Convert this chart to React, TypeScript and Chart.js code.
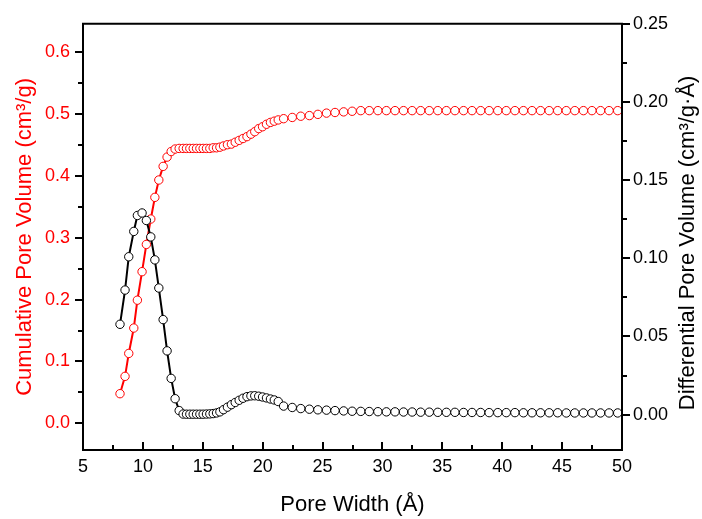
import React, { useEffect, useRef } from "react";
import { Chart, registerables } from "chart.js";

Chart.register(...registerables);

const FONT = "'Liberation Sans', Arial, Helvetica, sans-serif";

// Pore width (Å)
const poreWidth = [
  8.09, 8.51, 8.82, 9.24, 9.54, 9.93, 10.29, 10.66, 11.0, 11.33, 11.69, 12.02, 12.36, 12.69, 13.03, 13.36,
  13.64, 13.92, 14.2, 14.48, 14.76, 15.03, 15.31, 15.59, 15.87, 16.15, 16.43,
  16.73, 17.06, 17.39, 17.71, 18.04, 18.36, 18.69, 19.02, 19.34, 19.67, 19.99, 20.32, 20.65, 20.97, 21.3,
  21.75, 22.47, 23.18, 23.9, 24.61, 25.33, 26.04, 26.76, 27.47, 28.19, 28.9, 29.62, 30.33, 31.05, 31.76,
  32.48, 33.19, 33.91, 34.62, 35.34, 36.05, 36.77, 37.48, 38.2, 38.91, 39.63, 40.34, 41.06, 41.77, 42.49,
  43.2, 43.92, 44.63, 45.35, 46.06, 46.78, 47.49, 48.21, 48.92, 49.64,
];

// Cumulative pore volume (cm³/g), left axis
const cumulativeVolume = [
  0.048, 0.076, 0.113, 0.154, 0.199, 0.245, 0.289, 0.33, 0.365, 0.393, 0.415, 0.43, 0.439, 0.443, 0.444, 0.444,
  0.444, 0.444, 0.444, 0.444, 0.444, 0.444, 0.444, 0.444, 0.445, 0.445, 0.446,
  0.448, 0.45, 0.451, 0.454, 0.457, 0.46, 0.463, 0.467, 0.471, 0.476, 0.479, 0.483, 0.486, 0.488, 0.49,
  0.492, 0.494, 0.496, 0.497, 0.499, 0.501, 0.502, 0.503, 0.504, 0.505, 0.505, 0.505, 0.505, 0.505, 0.505,
  0.505, 0.505, 0.505, 0.505, 0.505, 0.505, 0.505, 0.505, 0.505, 0.505, 0.505, 0.505, 0.505, 0.505, 0.505,
  0.505, 0.505, 0.505, 0.505, 0.505, 0.505, 0.505, 0.505, 0.505, 0.505,
];

// Differential pore volume (cm³/g·Å), right axis
const differentialVolume = [
  0.0578, 0.0797, 0.101, 0.1172, 0.1274, 0.129, 0.1242, 0.1137, 0.099, 0.081, 0.0608, 0.0408, 0.0232, 0.0102, 0.0026, 0.0004,
  0.0003, 0.0003, 0.0003, 0.0003, 0.0003, 0.0003, 0.0004, 0.0005, 0.0007, 0.0011, 0.0018,
  0.0032, 0.0048, 0.0064, 0.0078, 0.0092, 0.0105, 0.0115, 0.012, 0.0121, 0.0118, 0.0113, 0.0107, 0.01, 0.0094, 0.0084,
  0.0055, 0.0046, 0.0039, 0.0035, 0.0031, 0.0029, 0.0026, 0.0024, 0.0022, 0.0021, 0.002, 0.0019, 0.0018, 0.0018, 0.0017,
  0.0017, 0.0016, 0.0016, 0.0015, 0.0015, 0.0015, 0.0014, 0.0014, 0.0014, 0.0013, 0.0013, 0.0013, 0.0013, 0.0012, 0.0012,
  0.0012, 0.0012, 0.0012, 0.0011, 0.0011, 0.0011, 0.0011, 0.0011, 0.0011, 0.0011,
];

const xTicks = [5, 10, 15, 20, 25, 30, 35, 40, 45, 50];
const leftTicks = [0, 0.1, 0.2, 0.3, 0.4, 0.5, 0.6];
const rightTicks = [0, 0.05, 0.1, 0.15, 0.2, 0.25];

const xTitle = "Pore Width (Å)";
const leftTitle = "Cumulative Pore Volume (cm³/g)";
const rightTitle = "Differential Pore Volume (cm³/g·Å)";

const RED = "#ff0000";
const TITLE_SIZE = 22;
const TICK_SIZE = 18;

const midpoints = (arr: number[]) => arr.slice(0, -1).map((v, i) => (v + arr[i + 1]) / 2);

const framePlugin = {
  id: "originFrame",
  afterDraw(chart: any) {
    const { ctx, chartArea, scales } = chart;
    const { left, right, top, bottom } = chartArea;
    ctx.save();
    ctx.strokeStyle = "#000";
    ctx.lineWidth = 2;
    ctx.lineCap = "square";
    ctx.beginPath();
    ctx.rect(left, top, right - left, bottom - top);
    ctx.stroke();
    ctx.lineCap = "butt";
    const MAJ = 7;
    const MIN = 4;
    ctx.beginPath();
    // bottom axis ticks (pointing inward)
    xTicks.forEach((v) => {
      const p = Math.round(scales.x.getPixelForValue(v));
      ctx.moveTo(p, bottom);
      ctx.lineTo(p, bottom - MAJ - 1);
    });
    midpoints(xTicks).forEach((v) => {
      const p = Math.round(scales.x.getPixelForValue(v));
      ctx.moveTo(p, bottom);
      ctx.lineTo(p, bottom - MIN - 1);
    });
    // left axis ticks (outward)
    leftTicks.forEach((v) => {
      const p = Math.round(scales.y.getPixelForValue(v));
      ctx.moveTo(left, p);
      ctx.lineTo(left - MAJ - 1, p);
    });
    midpoints(leftTicks).forEach((v) => {
      const p = Math.round(scales.y.getPixelForValue(v));
      ctx.moveTo(left, p);
      ctx.lineTo(left - MIN - 1, p);
    });
    // right axis ticks (outward)
    rightTicks.forEach((v) => {
      const p = Math.round(scales.y1.getPixelForValue(v));
      ctx.moveTo(right, p);
      ctx.lineTo(right + MAJ + 1, p);
    });
    midpoints(rightTicks).forEach((v) => {
      const p = Math.round(scales.y1.getPixelForValue(v));
      ctx.moveTo(right, p);
      ctx.lineTo(right + MIN + 1, p);
    });
    ctx.stroke();

    // right axis title, reading bottom-to-top
    ctx.fillStyle = "#000";
    ctx.font = `${TITLE_SIZE}px ${FONT}`;
    ctx.textAlign = "center";
    ctx.textBaseline = "middle";
    ctx.translate(688, (top + bottom) / 2 + 6);
    ctx.rotate(-Math.PI / 2);
    ctx.fillText(rightTitle, 0, 0);
    ctx.restore();
  },
};

export default function App() {
  const canvasRef = useRef<HTMLCanvasElement | null>(null);

  useEffect(() => {
    if (!canvasRef.current) return;
    Chart.defaults.font.family = FONT;
    const chart = new Chart(canvasRef.current, {
      type: "line",
      data: {
        datasets: [
          {
            label: "Differential",
            data: poreWidth.map((x, i) => ({ x, y: differentialVolume[i] })),
            yAxisID: "y1",
            borderColor: "#000",
            borderWidth: 2,
            pointRadius: 4.2,
            pointBorderWidth: 1,
            pointBorderColor: "#000",
            pointBackgroundColor: "#fff",
            tension: 0,
          },
          {
            label: "Cumulative",
            data: poreWidth.map((x, i) => ({ x, y: cumulativeVolume[i] })),
            yAxisID: "y",
            borderColor: RED,
            borderWidth: 2,
            pointRadius: 4.2,
            pointBorderWidth: 1,
            pointBorderColor: RED,
            pointBackgroundColor: "#fff",
            tension: 0,
          },
        ],
      },
      options: {
        animation: false,
        responsive: false,
        maintainAspectRatio: false,
        layout: { padding: { top: 22, left: 0, right: 0, bottom: 0 } },
        plugins: { legend: { display: false }, tooltip: { enabled: false } },
        scales: {
          x: {
            type: "linear",
            position: "bottom",
            min: 5,
            max: 50,
            afterBuildTicks: (s: any) => {
              s.ticks = xTicks.map((v) => ({ value: v }));
            },
            afterFit: (s: any) => {
              s.height = 69;
            },
            grid: { display: false, drawTicks: false },
            border: { display: false },
            ticks: {
              color: "#000",
              font: { size: TICK_SIZE },
              padding: 6,
              maxRotation: 0,
              autoSkip: false,
              callback: (v: any) => String(v),
            },
            title: {
              display: true,
              text: xTitle,
              color: "#000",
              font: { size: TITLE_SIZE },
              padding: { top: 0, bottom: 1 },
            },
          },
          y: {
            type: "linear",
            position: "left",
            min: -0.0429,
            max: 0.6452,
            afterBuildTicks: (s: any) => {
              s.ticks = leftTicks.map((v) => ({ value: v }));
            },
            afterFit: (s: any) => {
              s.width = 83;
            },
            grid: { display: false, drawTicks: false },
            border: { display: false },
            ticks: {
              color: RED,
              font: { size: TICK_SIZE },
              padding: 13,
              callback: (v: any) => Number(v).toFixed(1),
            },
            title: {
              display: true,
              text: leftTitle,
              color: RED,
              font: { size: TITLE_SIZE },
              padding: { top: 12, bottom: 0 },
            },
          },
          y1: {
            type: "linear",
            position: "right",
            min: -0.0226,
            max: 0.25,
            afterBuildTicks: (s: any) => {
              s.ticks = rightTicks.map((v) => ({ value: v }));
            },
            afterFit: (s: any) => {
              s.width = 80;
            },
            grid: { display: false, drawTicks: false },
            border: { display: false },
            ticks: {
              color: "#000",
              font: { size: TICK_SIZE },
              padding: 11,
              callback: (v: any) => Number(v).toFixed(2),
            },
            title: { display: false },
          },
        },
      },
      plugins: [framePlugin],
    });
    return () => chart.destroy();
  }, []);

  return (
    <div style={{ position: "absolute", left: 0, top: 0, width: 702, height: 519, background: "#fff" }}>
      <canvas ref={canvasRef} width={702} height={519} style={{ display: "block" }} />
    </div>
  );
}
